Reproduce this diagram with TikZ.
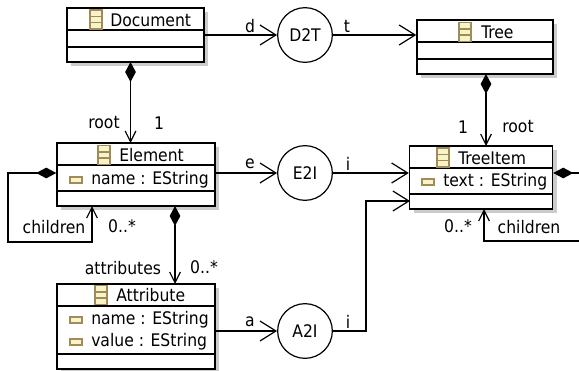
\documentclass[tikz,border=0pt]{standalone}
\usepackage{fontspec}
\setmainfont{DejaVu Sans Condensed}
\usepackage{xcolor}
\usepackage{tikz}
\usetikzlibrary{positioning, arrows.meta, calc, shadows}
\definecolor{iconedge}{HTML}{A08C5A}
\definecolor{iconfill}{HTML}{F8F4C8}
\newcommand{\classicon}[2]{%
  \draw[iconedge, fill=iconfill, line width=1pt] (#1-6,#2-9.5) rectangle (#1+6,#2+9.5);
  \draw[iconedge, line width=1pt] (#1-6,#2-3) -- (#1+6,#2-3) (#1-6,#2+3) -- (#1+6,#2+3);}
\newcommand{\attricon}[2]{%
  \draw[iconedge, fill=iconfill, line width=1pt] (#1-6,#2-3) rectangle (#1+6,#2+3);}

\begin{document}
\begin{tikzpicture}[
  x=0.75pt, y=-0.75pt,
  font=\fontsize{13}{15}\selectfont,
  classbox/.style={draw, fill=white, line width=1.1pt, inner sep=0pt,
    general shadow={shadow xshift=3pt, shadow yshift=-3pt, draw=none, fill=black!20}},
  mapping/.style={draw, circle, fill=white, minimum size=41pt, inner sep=0pt, line width=0.9pt},
  sepline/.style={line width=1.1pt},
  arrow/.style={-{Straight Barb[length=12pt, width=15pt, line width=0.9pt]}, line width=0.9pt},
  contain/.style={{Diamond[length=15pt, width=8pt]}-{Straight Barb[length=8pt, width=8pt, line width=0.9pt]}, line width=0.9pt},
  ownerend/.style={{Diamond[length=15pt, width=8pt]}-, line width=0.9pt},
  childend/.style={-{Straight Barb[length=8pt, width=8pt, line width=0.9pt]}, line width=0.9pt},
  lbl/.style={inner sep=0pt},
  member/.style={inner sep=0pt, anchor=west}
]
\useasboundingbox (0,0) rectangle (579,371);

% Classes
\node[classbox, minimum width=102.75pt, minimum height=40.5pt] (doc) at (135.5,35) {};
\node[classbox, minimum width=102pt, minimum height=40.5pt] (tree) at (485,47) {};
\node[classbox, minimum width=118.5pt, minimum height=47.25pt] (elem) at (136,174.5) {};
\node[classbox, minimum width=107.25pt, minimum height=47.25pt] (item) at (481,177.5) {};
\node[classbox, minimum width=118.5pt, minimum height=63.75pt] (attr) at (136,326.5) {};

% Compartments
\draw[sepline] (doc.west |- 0,30) -- (doc.east |- 0,30) (doc.west |- 0,47) -- (doc.east |- 0,47);
\draw[sepline] (tree.west |- 0,42) -- (tree.east |- 0,42) (tree.west |- 0,59) -- (tree.east |- 0,59);
\draw[sepline] (elem.west |- 0,165) -- (elem.east |- 0,165) (elem.west |- 0,191) -- (elem.east |- 0,191);
\draw[sepline] (item.west |- 0,168) -- (item.east |- 0,168) (item.west |- 0,194) -- (item.east |- 0,194);
\draw[sepline] (attr.west |- 0,306) -- (attr.east |- 0,306) (attr.west |- 0,354) -- (attr.east |- 0,354);

% Icons and names
\classicon{96}{19.5}
\node[member] (docname) at (110,20) {Document};
\classicon{465}{32}
\node[member] (treename) at (481,32) {Tree};
\classicon{104}{155}
\node[member] (elemname) at (119,155) {Element};
\classicon{443}{157.5}
\node[member] (itemname) at (458,158) {TreeItem};
\classicon{101}{295}
\node[member] (attrname) at (116,295) {Attribute};

% Attributes
\attricon{76}{180}
\node[member] (elemattr) at (91,180) {name : EString};
\attricon{428}{182}
\node[member] (itemattr) at (443,182) {text : EString};
\attricon{76}{320}
\node[member] (attrname1) at (91,320) {name : EString};
\attricon{76}{342}
\node[member] (attrname2) at (91,342) {value : EString};

% Mappings
\node[mapping] (d2t) at (305,35) {D2T};
\node[mapping] (e2i) at (305,173) {E2I};
\node[mapping] (a2i) at (305,331) {A2I};

% Horizontal connectors
\draw[arrow] (doc) -- (d2t);
\draw[arrow] (d2t) -- (tree.west |- d2t);
\draw[arrow] (elem.east |- e2i) -- (e2i);
\draw[arrow] (e2i) -- (item.west |- e2i);
\draw[arrow] (attr.east |- a2i) -- (a2i);
\coordinate (itemin) at (410,201);
\draw[arrow] (a2i) -| (366,201) -- (itemin);

% Containment
\draw[contain] (130.5,62) -- (130.5,143);
\draw[contain] (486,74) -- (486,146);
\draw[contain] (175,206) -- (175,284);
\draw[contain] (elem.west |- 0,173) -- (8,173) |- (92,242) -- (92,206);
\draw[ownerend] (item.east |- 0,173) -- (579,173);
\draw[childend] (579,241) -- (484,241) -- (484,209);

% Labels
\node[lbl] (ld) at (250,26) {d};
\node[lbl] (lt) at (347,26) {t};
\node[lbl] (le) at (250,164) {e};
\node[lbl] (li1) at (348,164) {i};
\node[lbl] (la) at (250,322) {a};
\node[lbl] (li2) at (348,322) {i};
\node[lbl] (lroot1) at (104,123) {root};
\node[lbl] (lone1) at (159,123) {1};
\node[lbl] (lone2) at (463,127) {1};
\node[lbl] (lroot2) at (518,127) {root};
\node[lbl] (lchild1) at (54,227) {children};
\node[lbl] (lmany1) at (122,226) {0..*};
\node[lbl] (lattrs) at (123,268) {attributes};
\node[lbl] (lmany2) at (204,267) {0..*};
\node[lbl] (lmany3) at (458,226) {0..*};
\node[lbl] (lchild2) at (529,227) {children};

\end{tikzpicture}
\end{document}
